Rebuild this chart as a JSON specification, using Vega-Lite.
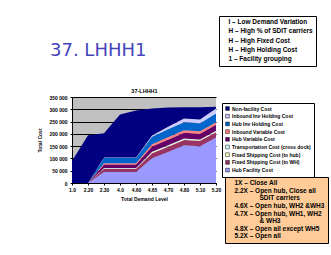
{
  "$schema": "https://vega.github.io/schema/vega-lite/v6.json",
  "autosize": "none",
  "width": 144,
  "height": 86,
  "padding": {"left": 72, "top": 97, "right": 115, "bottom": 72},
  "background": "white",
  "view": {"fill": "#C0C0C0", "stroke": null},
  "title": {"text": "37. LHHH1", "anchor": "start", "frame": "group", "dx": -22, "offset": -44, "fontSize": 18, "fontWeight": "normal", "font": "DejaVu Sans", "color": "#4444BB"},
  "config": {
    "axis": {"labelFont": "Liberation Sans", "titleFont": "Liberation Sans", "labelFontWeight": "bold", "titleFontWeight": "bold", "labelColor": "black", "titleColor": "black", "domainColor": "black", "tickColor": "black"}
  },
  "datasets": {
    "cost": [
      {"x": "1.0", "s": "Hub Facility Cost", "k": 1, "v": 0},
      {"x": "2.20", "s": "Hub Facility Cost", "k": 1, "v": 0},
      {"x": "2.30", "s": "Hub Facility Cost", "k": 1, "v": 44500},
      {"x": "4.0", "s": "Hub Facility Cost", "k": 1, "v": 44500},
      {"x": "4.60", "s": "Hub Facility Cost", "k": 1, "v": 44500},
      {"x": "4.65", "s": "Hub Facility Cost", "k": 1, "v": 101000},
      {"x": "4.70", "s": "Hub Facility Cost", "k": 1, "v": 126500},
      {"x": "4.80", "s": "Hub Facility Cost", "k": 1, "v": 153500},
      {"x": "5.10", "s": "Hub Facility Cost", "k": 1, "v": 149500},
      {"x": "5.20", "s": "Hub Facility Cost", "k": 1, "v": 185000},
      {"x": "1.0", "s": "Fixed Shipping Cost (to WH)", "k": 2, "v": 0},
      {"x": "2.20", "s": "Fixed Shipping Cost (to WH)", "k": 2, "v": 0},
      {"x": "2.30", "s": "Fixed Shipping Cost (to WH)", "k": 2, "v": 13000},
      {"x": "4.0", "s": "Fixed Shipping Cost (to WH)", "k": 2, "v": 13000},
      {"x": "4.60", "s": "Fixed Shipping Cost (to WH)", "k": 2, "v": 13000},
      {"x": "4.65", "s": "Fixed Shipping Cost (to WH)", "k": 2, "v": 20000},
      {"x": "4.70", "s": "Fixed Shipping Cost (to WH)", "k": 2, "v": 21000},
      {"x": "4.80", "s": "Fixed Shipping Cost (to WH)", "k": 2, "v": 22000},
      {"x": "5.10", "s": "Fixed Shipping Cost (to WH)", "k": 2, "v": 22000},
      {"x": "5.20", "s": "Fixed Shipping Cost (to WH)", "k": 2, "v": 22000},
      {"x": "1.0", "s": "Fixed Shipping Cost (to hub)", "k": 3, "v": 0},
      {"x": "2.20", "s": "Fixed Shipping Cost (to hub)", "k": 3, "v": 0},
      {"x": "2.30", "s": "Fixed Shipping Cost (to hub)", "k": 3, "v": 2000},
      {"x": "4.0", "s": "Fixed Shipping Cost (to hub)", "k": 3, "v": 2000},
      {"x": "4.60", "s": "Fixed Shipping Cost (to hub)", "k": 3, "v": 2000},
      {"x": "4.65", "s": "Fixed Shipping Cost (to hub)", "k": 3, "v": 3000},
      {"x": "4.70", "s": "Fixed Shipping Cost (to hub)", "k": 3, "v": 3000},
      {"x": "4.80", "s": "Fixed Shipping Cost (to hub)", "k": 3, "v": 3000},
      {"x": "5.10", "s": "Fixed Shipping Cost (to hub)", "k": 3, "v": 3000},
      {"x": "5.20", "s": "Fixed Shipping Cost (to hub)", "k": 3, "v": 3000},
      {"x": "1.0", "s": "Transportation Cost (cross dock)", "k": 4, "v": 0},
      {"x": "2.20", "s": "Transportation Cost (cross dock)", "k": 4, "v": 0},
      {"x": "2.30", "s": "Transportation Cost (cross dock)", "k": 4, "v": 2000},
      {"x": "4.0", "s": "Transportation Cost (cross dock)", "k": 4, "v": 2000},
      {"x": "4.60", "s": "Transportation Cost (cross dock)", "k": 4, "v": 2000},
      {"x": "4.65", "s": "Transportation Cost (cross dock)", "k": 4, "v": 3000},
      {"x": "4.70", "s": "Transportation Cost (cross dock)", "k": 4, "v": 3000},
      {"x": "4.80", "s": "Transportation Cost (cross dock)", "k": 4, "v": 3000},
      {"x": "5.10", "s": "Transportation Cost (cross dock)", "k": 4, "v": 3000},
      {"x": "5.20", "s": "Transportation Cost (cross dock)", "k": 4, "v": 3000},
      {"x": "1.0", "s": "Hub Variable Cost", "k": 5, "v": 0},
      {"x": "2.20", "s": "Hub Variable Cost", "k": 5, "v": 0},
      {"x": "2.30", "s": "Hub Variable Cost", "k": 5, "v": 14000},
      {"x": "4.0", "s": "Hub Variable Cost", "k": 5, "v": 14000},
      {"x": "4.60", "s": "Hub Variable Cost", "k": 5, "v": 14000},
      {"x": "4.65", "s": "Hub Variable Cost", "k": 5, "v": 22000},
      {"x": "4.70", "s": "Hub Variable Cost", "k": 5, "v": 23000},
      {"x": "4.80", "s": "Hub Variable Cost", "k": 5, "v": 23000},
      {"x": "5.10", "s": "Hub Variable Cost", "k": 5, "v": 23000},
      {"x": "5.20", "s": "Hub Variable Cost", "k": 5, "v": 24000},
      {"x": "1.0", "s": "Inbound Variable Cost", "k": 6, "v": 0},
      {"x": "2.20", "s": "Inbound Variable Cost", "k": 6, "v": 0},
      {"x": "2.30", "s": "Inbound Variable Cost", "k": 6, "v": 5000},
      {"x": "4.0", "s": "Inbound Variable Cost", "k": 6, "v": 5000},
      {"x": "4.60", "s": "Inbound Variable Cost", "k": 6, "v": 5000},
      {"x": "4.65", "s": "Inbound Variable Cost", "k": 6, "v": 9000},
      {"x": "4.70", "s": "Inbound Variable Cost", "k": 6, "v": 10000},
      {"x": "4.80", "s": "Inbound Variable Cost", "k": 6, "v": 10000},
      {"x": "5.10", "s": "Inbound Variable Cost", "k": 6, "v": 10000},
      {"x": "5.20", "s": "Inbound Variable Cost", "k": 6, "v": 10000},
      {"x": "1.0", "s": "Hub Inv Holding Cost", "k": 7, "v": 0},
      {"x": "2.20", "s": "Hub Inv Holding Cost", "k": 7, "v": 0},
      {"x": "2.30", "s": "Hub Inv Holding Cost", "k": 7, "v": 21000},
      {"x": "4.0", "s": "Hub Inv Holding Cost", "k": 7, "v": 21000},
      {"x": "4.60", "s": "Hub Inv Holding Cost", "k": 7, "v": 21000},
      {"x": "4.65", "s": "Hub Inv Holding Cost", "k": 7, "v": 30000},
      {"x": "4.70", "s": "Hub Inv Holding Cost", "k": 7, "v": 32000},
      {"x": "4.80", "s": "Hub Inv Holding Cost", "k": 7, "v": 33000},
      {"x": "5.10", "s": "Hub Inv Holding Cost", "k": 7, "v": 33000},
      {"x": "5.20", "s": "Hub Inv Holding Cost", "k": 7, "v": 36000},
      {"x": "1.0", "s": "Inbound Inv Holding Cost", "k": 8, "v": 0},
      {"x": "2.20", "s": "Inbound Inv Holding Cost", "k": 8, "v": 0},
      {"x": "2.30", "s": "Inbound Inv Holding Cost", "k": 8, "v": 2000},
      {"x": "4.0", "s": "Inbound Inv Holding Cost", "k": 8, "v": 2000},
      {"x": "4.60", "s": "Inbound Inv Holding Cost", "k": 8, "v": 2000},
      {"x": "4.65", "s": "Inbound Inv Holding Cost", "k": 8, "v": 5000},
      {"x": "4.70", "s": "Inbound Inv Holding Cost", "k": 8, "v": 10000},
      {"x": "4.80", "s": "Inbound Inv Holding Cost", "k": 8, "v": 15000},
      {"x": "5.10", "s": "Inbound Inv Holding Cost", "k": 8, "v": 15000},
      {"x": "5.20", "s": "Inbound Inv Holding Cost", "k": 8, "v": 20000},
      {"x": "1.0", "s": "Non-facility Cost", "k": 9, "v": 90000},
      {"x": "2.20", "s": "Non-facility Cost", "k": 9, "v": 194000},
      {"x": "2.30", "s": "Non-facility Cost", "k": 9, "v": 98500},
      {"x": "4.0", "s": "Non-facility Cost", "k": 9, "v": 175500},
      {"x": "4.60", "s": "Non-facility Cost", "k": 9, "v": 191500},
      {"x": "4.65", "s": "Non-facility Cost", "k": 9, "v": 110000},
      {"x": "4.70", "s": "Non-facility Cost", "k": 9, "v": 78500},
      {"x": "4.80", "s": "Non-facility Cost", "k": 9, "v": 45500},
      {"x": "5.10", "s": "Non-facility Cost", "k": 9, "v": 49500},
      {"x": "5.20", "s": "Non-facility Cost", "k": 9, "v": 7000}
    ],
    "notes": [
      {"t": "I – Low Demand Variation"},
      {"t": "H – High % of SDIT carriers"},
      {"t": "H – High Fixed Cost"},
      {"t": "H – High Holding Cost"},
      {"t": "1 – Facility grouping"}
    ],
    "scen": [
      {"t": "1X – Close All"},
      {"t": "2.2X – Open hub, Close all"},
      {"t": "\u2800\u2800\u2800\u2800\u2800SDIT carriers"},
      {"t": "4.6X – Open hub, WH2 &WH3"},
      {"t": "4.7X – Open hub, WH1, WH2"},
      {"t": "\u2800\u2800\u2800\u2800\u2800& WH3"},
      {"t": "4.8X – Open all except WH5"},
      {"t": "5.2X – Open all"}
    ]
  },
  "resolve": {"axis": {"x": "independent"}},
  "layer": [
    {
      "data": {"name": "cost"},
      "mark": {"type": "area"},
      "encoding": {
        "x": {"field": "x", "type": "ordinal", "sort": null, "scale": {"padding": 0},
              "axis": {"title": "Total Demand Level", "labelAngle": 0, "labelFontSize": 5, "titleFontSize": 5, "tickSize": 2, "labelPadding": 2, "titlePadding": 4, "grid": false}},
        "y": {"field": "v", "type": "quantitative", "stack": "zero",
              "scale": {"domain": [0, 350000], "nice": false},
              "axis": {"title": "Total Cost", "values": [0, 50000, 100000, 150000, 200000, 250000, 300000, 350000], "labelOverlap": false, "labelExpr": "replace(format(datum.value, ','), ',', ' ')", "labelFontSize": 5, "titleFontSize": 5, "tickSize": 2, "labelPadding": 3, "titlePadding": 6, "grid": true, "gridColor": "black", "gridOpacity": 1, "gridWidth": 1}},
        "order": {"field": "k", "type": "quantitative", "sort": "ascending"},
        "color": {"field": "s", "type": "nominal",
                  "scale": {"domain": ["Non-facility Cost", "Inbound Inv Holding Cost", "Hub Inv Holding Cost", "Inbound Variable Cost", "Hub Variable Cost", "Transportation Cost (cross dock)", "Fixed Shipping Cost (to hub)", "Fixed Shipping Cost (to WH)", "Hub Facility Cost"],
                            "range": ["#000080", "#CCCCFF", "#0066CC", "#FF8080", "#660066", "#CCFFFF", "#FFFFCC", "#993366", "#9999FF"]},
                  "legend": {"title": null, "orient": "none", "legendX": 150, "legendY": 6, "fillColor": "white", "strokeColor": "black", "padding": 3, "symbolType": "square", "symbolSize": 14, "symbolStrokeColor": "black", "symbolStrokeWidth": 0.5, "labelFont": "Liberation Sans", "labelFontSize": 5, "labelFontWeight": "bold", "labelColor": "black", "labelOffset": 2, "rowPadding": 0.7, "labelLimit": 200}}
      }
    },
    {
      "data": {"name": "cost"},
      "mark": {"type": "point", "opacity": 0},
      "encoding": {
        "x": {"field": "x", "type": "ordinal", "sort": null,
              "axis": {"orient": "top", "title": "37-LHHH1", "labels": false, "ticks": false, "domain": false, "grid": false, "titleFontSize": 5.5, "titlePadding": 4}}
      }
    },
    {
      "data": {"name": "notes"},
      "mark": {"type": "point", "opacity": 0},
      "encoding": {
        "shape": {"field": "t", "type": "nominal", "sort": null,
                  "legend": {"title": null, "orient": "none", "legendX": 147, "legendY": -81, "fillColor": "white", "strokeColor": "black", "padding": 3, "symbolSize": 0, "symbolOpacity": 0, "labelOffset": 0, "labelFont": "Liberation Sans", "labelFontSize": 6.5, "labelFontWeight": "bold", "labelColor": "black", "rowPadding": 2.2, "labelLimit": 200}}
      }
    },
    {
      "data": {"name": "scen"},
      "mark": {"type": "point", "opacity": 0},
      "encoding": {
        "fill": {"field": "t", "type": "nominal", "sort": null,
                 "legend": {"title": null, "orient": "none", "legendX": 153, "legendY": 80, "fillColor": "#FFCC99", "strokeColor": "black", "padding": 3, "symbolSize": 0, "symbolOpacity": 0, "labelOffset": 0, "labelFont": "Liberation Sans", "labelFontSize": 6.5, "labelFontWeight": "bold", "labelColor": "black", "rowPadding": 0.6, "labelLimit": 200}}
      }
    }
  ]
}
